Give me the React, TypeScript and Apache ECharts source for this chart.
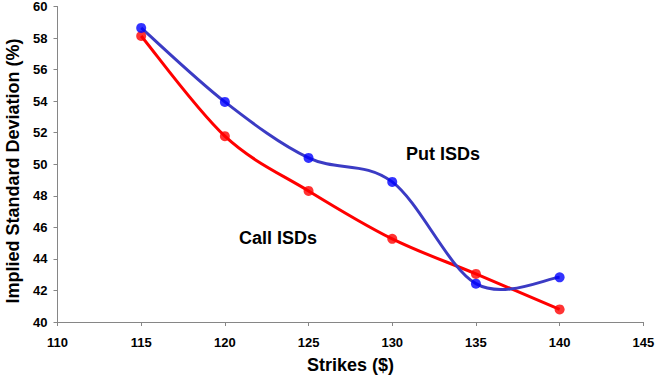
import React, { useEffect, useRef } from "react";
import * as echarts from "echarts";

// Strike prices ($)
const strikes = [115, 120, 125, 130, 135, 140];
// Implied standard deviations (%) backed out of put and call prices
const putISD = [58.64, 53.95, 50.4, 48.88, 42.43, 42.83];
const callISD = [58.13, 51.78, 48.31, 45.27, 43.05, 40.8];

const FONT = "'Liberation Sans', Arial, sans-serif";

const toPairs = (vals: number[]) => strikes.map((s, i) => [s, vals[i]]);

// Spreadsheet-style smoothed line: cubic Bezier segments whose control points
// follow the Catmull-Rom tangents (neighbour difference / 6), end points doubled.
function smoothCurve(vals: number[], color: string) {
  const pairs = toPairs(vals);
  return {
    type: "custom",
    data: pairs,
    silent: true,
    z: 2,
    renderItem: (params: any, api: any) => {
      if (params.dataIndex !== 0) return null;
      const p = pairs.map((d) => api.coord(d) as number[]);
      const n = p.length;
      let d = `M${p[0][0]},${p[0][1]}`;
      for (let i = 0; i < n - 1; i++) {
        const p0 = p[Math.max(i - 1, 0)];
        const p1 = p[i];
        const p2 = p[i + 1];
        const p3 = p[Math.min(i + 2, n - 1)];
        const c1x = p1[0] + (p2[0] - p0[0]) / 6;
        const c1y = p1[1] + (p2[1] - p0[1]) / 6;
        const c2x = p2[0] - (p3[0] - p1[0]) / 6;
        const c2y = p2[1] - (p3[1] - p1[1]) / 6;
        d += ` C${c1x},${c1y} ${c2x},${c2y} ${p2[0]},${p2[1]}`;
      }
      return {
        type: "path",
        shape: { pathData: d },
        style: { fill: "none", stroke: color, lineWidth: 3, lineJoin: "round" },
      };
    },
  };
}

function markers(vals: number[], color: string) {
  return {
    type: "scatter",
    data: toPairs(vals),
    symbol: "circle",
    symbolSize: 10,
    itemStyle: { color },
    z: 3,
  };
}

export default function App() {
  const ref = useRef<HTMLDivElement>(null);

  useEffect(() => {
    if (!ref.current) return;
    const chart = echarts.init(ref.current, undefined, { renderer: "svg" });
    const axisGray = "#868686";
    chart.setOption({
      animation: false,
      backgroundColor: "#ffffff",
      grid: {
        left: 57.5,
        right: 17.7,
        top: 6.5,
        bottom: 54,
        containLabel: false,
        outerBoundsMode: "none",
      },
      xAxis: {
        type: "value",
        min: 110,
        max: 145,
        interval: 5,
        name: "Strikes ($)",
        nameLocation: "middle",
        nameGap: 34,
        nameTextStyle: { fontFamily: FONT, fontWeight: "bold", fontSize: 18, color: "#000" },
        axisLine: { show: true, lineStyle: { color: axisGray, width: 1 } },
        axisTick: { show: true, inside: false, length: 4, lineStyle: { color: axisGray } },
        axisLabel: { fontFamily: FONT, fontWeight: "bold", fontSize: 13, color: "#000", margin: 14 },
        splitLine: { show: false },
      },
      yAxis: {
        type: "value",
        min: 40,
        max: 60,
        interval: 2,
        axisLine: { show: true, lineStyle: { color: axisGray, width: 1 } },
        axisTick: { show: true, inside: false, length: 4, lineStyle: { color: axisGray } },
        axisLabel: { fontFamily: FONT, fontWeight: "bold", fontSize: 13, color: "#000", margin: 10 },
        splitLine: { show: false },
      },
      graphic: [
        {
          type: "text",
          x: 13,
          y: 171,
          rotation: Math.PI / 2,
          style: {
            text: "Implied Standard Deviation (%)",
            font: `bold 18px ${FONT}`,
            fill: "#000",
            align: "center",
            verticalAlign: "middle",
          },
        },
        {
          type: "text",
          x: 443,
          y: 154,
          style: {
            text: "Put ISDs",
            font: `bold 18px ${FONT}`,
            fill: "#000",
            align: "center",
            verticalAlign: "middle",
          },
        },
        {
          type: "text",
          x: 278,
          y: 238,
          style: {
            text: "Call ISDs",
            font: `bold 18px ${FONT}`,
            fill: "#000",
            align: "center",
            verticalAlign: "middle",
          },
        },
      ],
      series: [
        smoothCurve(callISD, "#ff0000"),
        markers(callISD, "#ff0000"),
        smoothCurve(putISD, "#3b3bc4"),
        markers(putISD, "#0000ff"),
      ],
    });
    return () => chart.dispose();
  }, []);

  return (
    <div
      ref={ref}
      style={{ position: "fixed", left: 0, top: 0, width: 661, height: 376 }}
    />
  );
}
